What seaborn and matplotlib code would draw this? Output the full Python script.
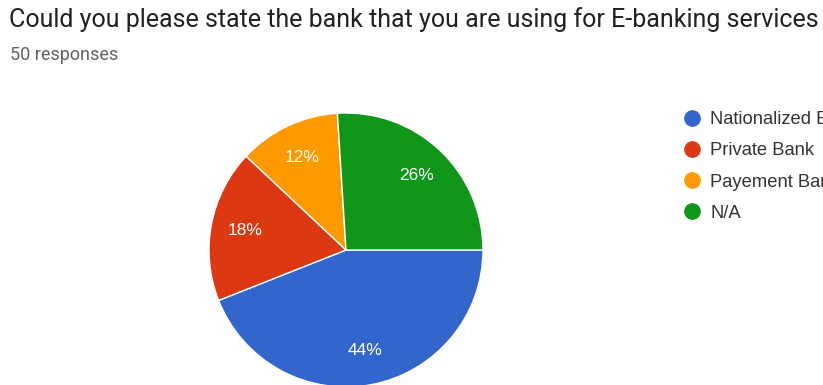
import matplotlib
matplotlib.use("Agg")
import matplotlib.pyplot as plt
from matplotlib.lines import Line2D
import seaborn as sns

title = "Could you please state the bank that you are using for E-banking services"
subtitle = "50 responses"
categories = ["Nationalized Bank", "Private Bank", "Payement Bank", "N/A"]
counts = [22, 9, 6, 13]
colors = ["#3366CC", "#DC3912", "#FF9900", "#109618"]

sns.set_theme(style="white")
plt.rcParams["font.family"] = ["Liberation Sans", "DejaVu Sans"]

W, H = 823, 385
fig = plt.figure(figsize=(W / 100, H / 100), dpi=100)
fig.patch.set_facecolor("white")

cx, cy, r = 346, 250, 137
ax = fig.add_axes([(cx - r) / W, (H - cy - r) / H, 2 * r / W, 2 * r / H])
wedges, texts, autotexts = ax.pie(
    counts, colors=colors, startangle=0, counterclock=False,
    autopct=lambda p: f"{p:.0f}%", pctdistance=0.75,
    wedgeprops=dict(edgecolor="white", linewidth=1.0),
    textprops=dict(color="white", fontsize=12.5, family=["Liberation Sans", "DejaVu Sans"]),
)
ax.set_xlim(-1, 1)
ax.set_ylim(-1, 1)
ax.set_aspect("equal")
ax.axis("off")

fig.text(9 / W, 1 - 27 / H, title, fontsize=18, color="#202124",
         family=["Roboto", "DejaVu Sans"], va="baseline", ha="left")
fig.text(10 / W, 1 - 60 / H, subtitle, fontsize=13, color="#5f6368",
         family=["Roboto", "DejaVu Sans"], va="baseline", ha="left")

handles = [Line2D([], [], marker="o", linestyle="none", markersize=11,
                  markerfacecolor=c, markeredgecolor=c) for c in colors]
fig.legend(handles, categories, loc="upper left",
           bbox_to_anchor=(683 / W, 1 - 111 / H), frameon=False,
           fontsize=13.2, labelcolor="#333333", handlelength=1.0,
           handletextpad=0.5, labelspacing=0.78, borderpad=0, borderaxespad=0)

fig.savefig("out.png", dpi=100, facecolor="white")
